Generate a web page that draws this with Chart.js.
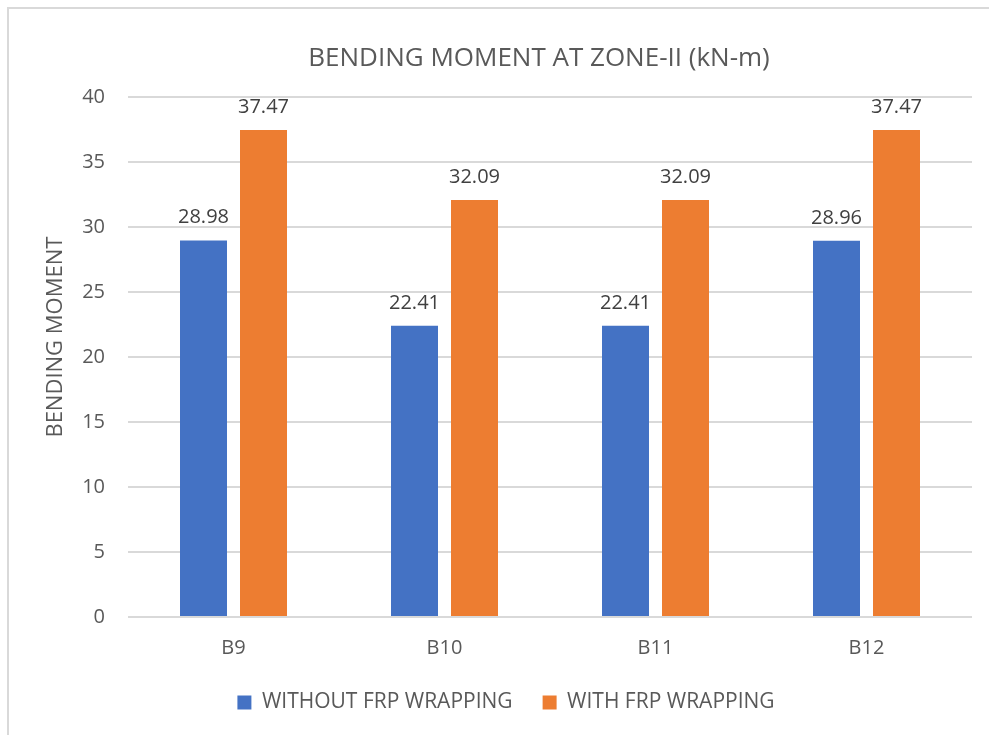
<!DOCTYPE html>
<html>
<head>
<meta charset="utf-8">
<title>Bending Moment at Zone-II</title>
<script src="https://cdn.jsdelivr.net/npm/chart.js@4.4.1/dist/chart.umd.min.js"></script>
<style>
  html, body { margin: 0; padding: 0; background: #ffffff; overflow: hidden; }
  #wrap { position: relative; width: 989px; height: 735px; }
</style>
</head>
<body>
<div id="wrap"><canvas id="chart"></canvas></div>
<script>
// Beams compared
const categories = ['B9', 'B10', 'B11', 'B12'];

// Bending moment (kN-m) per beam
const withoutFrpWrapping = [28.98, 22.41, 22.41, 28.96];
const withFrpWrapping = [37.47, 32.09, 32.09, 37.47];

const seriesNames = ['WITHOUT FRP WRAPPING', 'WITH FRP WRAPPING'];

// Value axis range
const yMin = 0;
const yMax = 40;
const yStep = 5;

const FONT = "'Open Sans', 'Liberation Sans', sans-serif";
const TEXT = '#595959';
const GRID = '#d9d9d9';

// Value labels above each bar
const valueLabels = {
  id: 'valueLabels',
  afterDatasetsDraw(chart) {
    const ctx = chart.ctx;
    ctx.save();
    ctx.font = `20px ${FONT}`;
    ctx.fillStyle = '#404040';
    ctx.textAlign = 'center';
    ctx.textBaseline = 'alphabetic';
    chart.data.datasets.forEach((ds, i) => {
      chart.getDatasetMeta(i).data.forEach((bar, j) => {
        ctx.fillText(ds.data[j].toFixed(2), bar.x, bar.y - 17);
      });
    });
    ctx.restore();
  }
};

// White page with the chart frame's top and left edges
const frame = {
  id: 'frame',
  beforeDraw(chart) {
    const ctx = chart.ctx;
    ctx.save();
    ctx.fillStyle = '#ffffff';
    ctx.fillRect(0, 0, chart.width, chart.height);
    ctx.fillStyle = GRID;
    ctx.fillRect(7, 7, chart.width - 7, 2);
    ctx.fillRect(7, 7, 2, chart.height - 7);
    ctx.restore();
  }
};

// Nudge the title block so the heading sits a little left of the plot centre
const titleNudge = {
  id: 'titleNudge',
  afterLayout(chart) {
    if (chart.titleBlock) chart.titleBlock.right -= 22;
  }
};

new Chart(document.getElementById('chart'), {
  type: 'bar',
  data: {
    labels: categories,
    datasets: [
      {
        label: seriesNames[0],
        data: withoutFrpWrapping,
        backgroundColor: '#4472c4',
        categoryPercentage: 0.5687,
        barPercentage: 0.7833
      },
      {
        label: seriesNames[1],
        data: withFrpWrapping,
        backgroundColor: '#ed7d31',
        categoryPercentage: 0.5687,
        barPercentage: 0.7833
      }
    ]
  },
  options: {
    responsive: true,
    maintainAspectRatio: false,
    animation: false,
    devicePixelRatio: 1,
    layout: { padding: { top: 0, left: 40, right: 17, bottom: 12 } },
    plugins: {
      title: {
        display: true,
        text: 'BENDING MOMENT AT ZONE-II (kN-m)',
        color: TEXT,
        fullSize: false,
        font: { family: FONT, size: 26, weight: 'normal' },
        padding: { top: 43, bottom: 23 }
      },
      legend: {
        position: 'bottom',
        labels: {
          color: TEXT,
          font: { family: FONT, size: 21 },
          boxWidth: 14,
          boxHeight: 14,
          padding: 30
        }
      },
      tooltip: { enabled: false }
    },
    scales: {
      x: {
        grid: { display: false, drawTicks: false },
        border: { display: false },
        ticks: {
          color: TEXT,
          font: { family: FONT, size: 20 },
          padding: 19
        },
        afterFit(scale) { scale.height = 45; }
      },
      y: {
        min: yMin,
        max: yMax,
        border: { display: false },
        grid: { color: GRID, lineWidth: 2, drawTicks: false },
        ticks: {
          stepSize: yStep,
          color: TEXT,
          font: { family: FONT, size: 20 },
          padding: 23
        },
        title: {
          display: true,
          text: '       BENDING MOMENT',
          color: TEXT,
          font: { family: FONT, size: 22 },
          padding: { top: 3, bottom: 0 }
        },
        afterFit(scale) { scale.width = 88; }
      }
    }
  },
  plugins: [frame, valueLabels, titleNudge]
});
</script>
</body>
</html>
